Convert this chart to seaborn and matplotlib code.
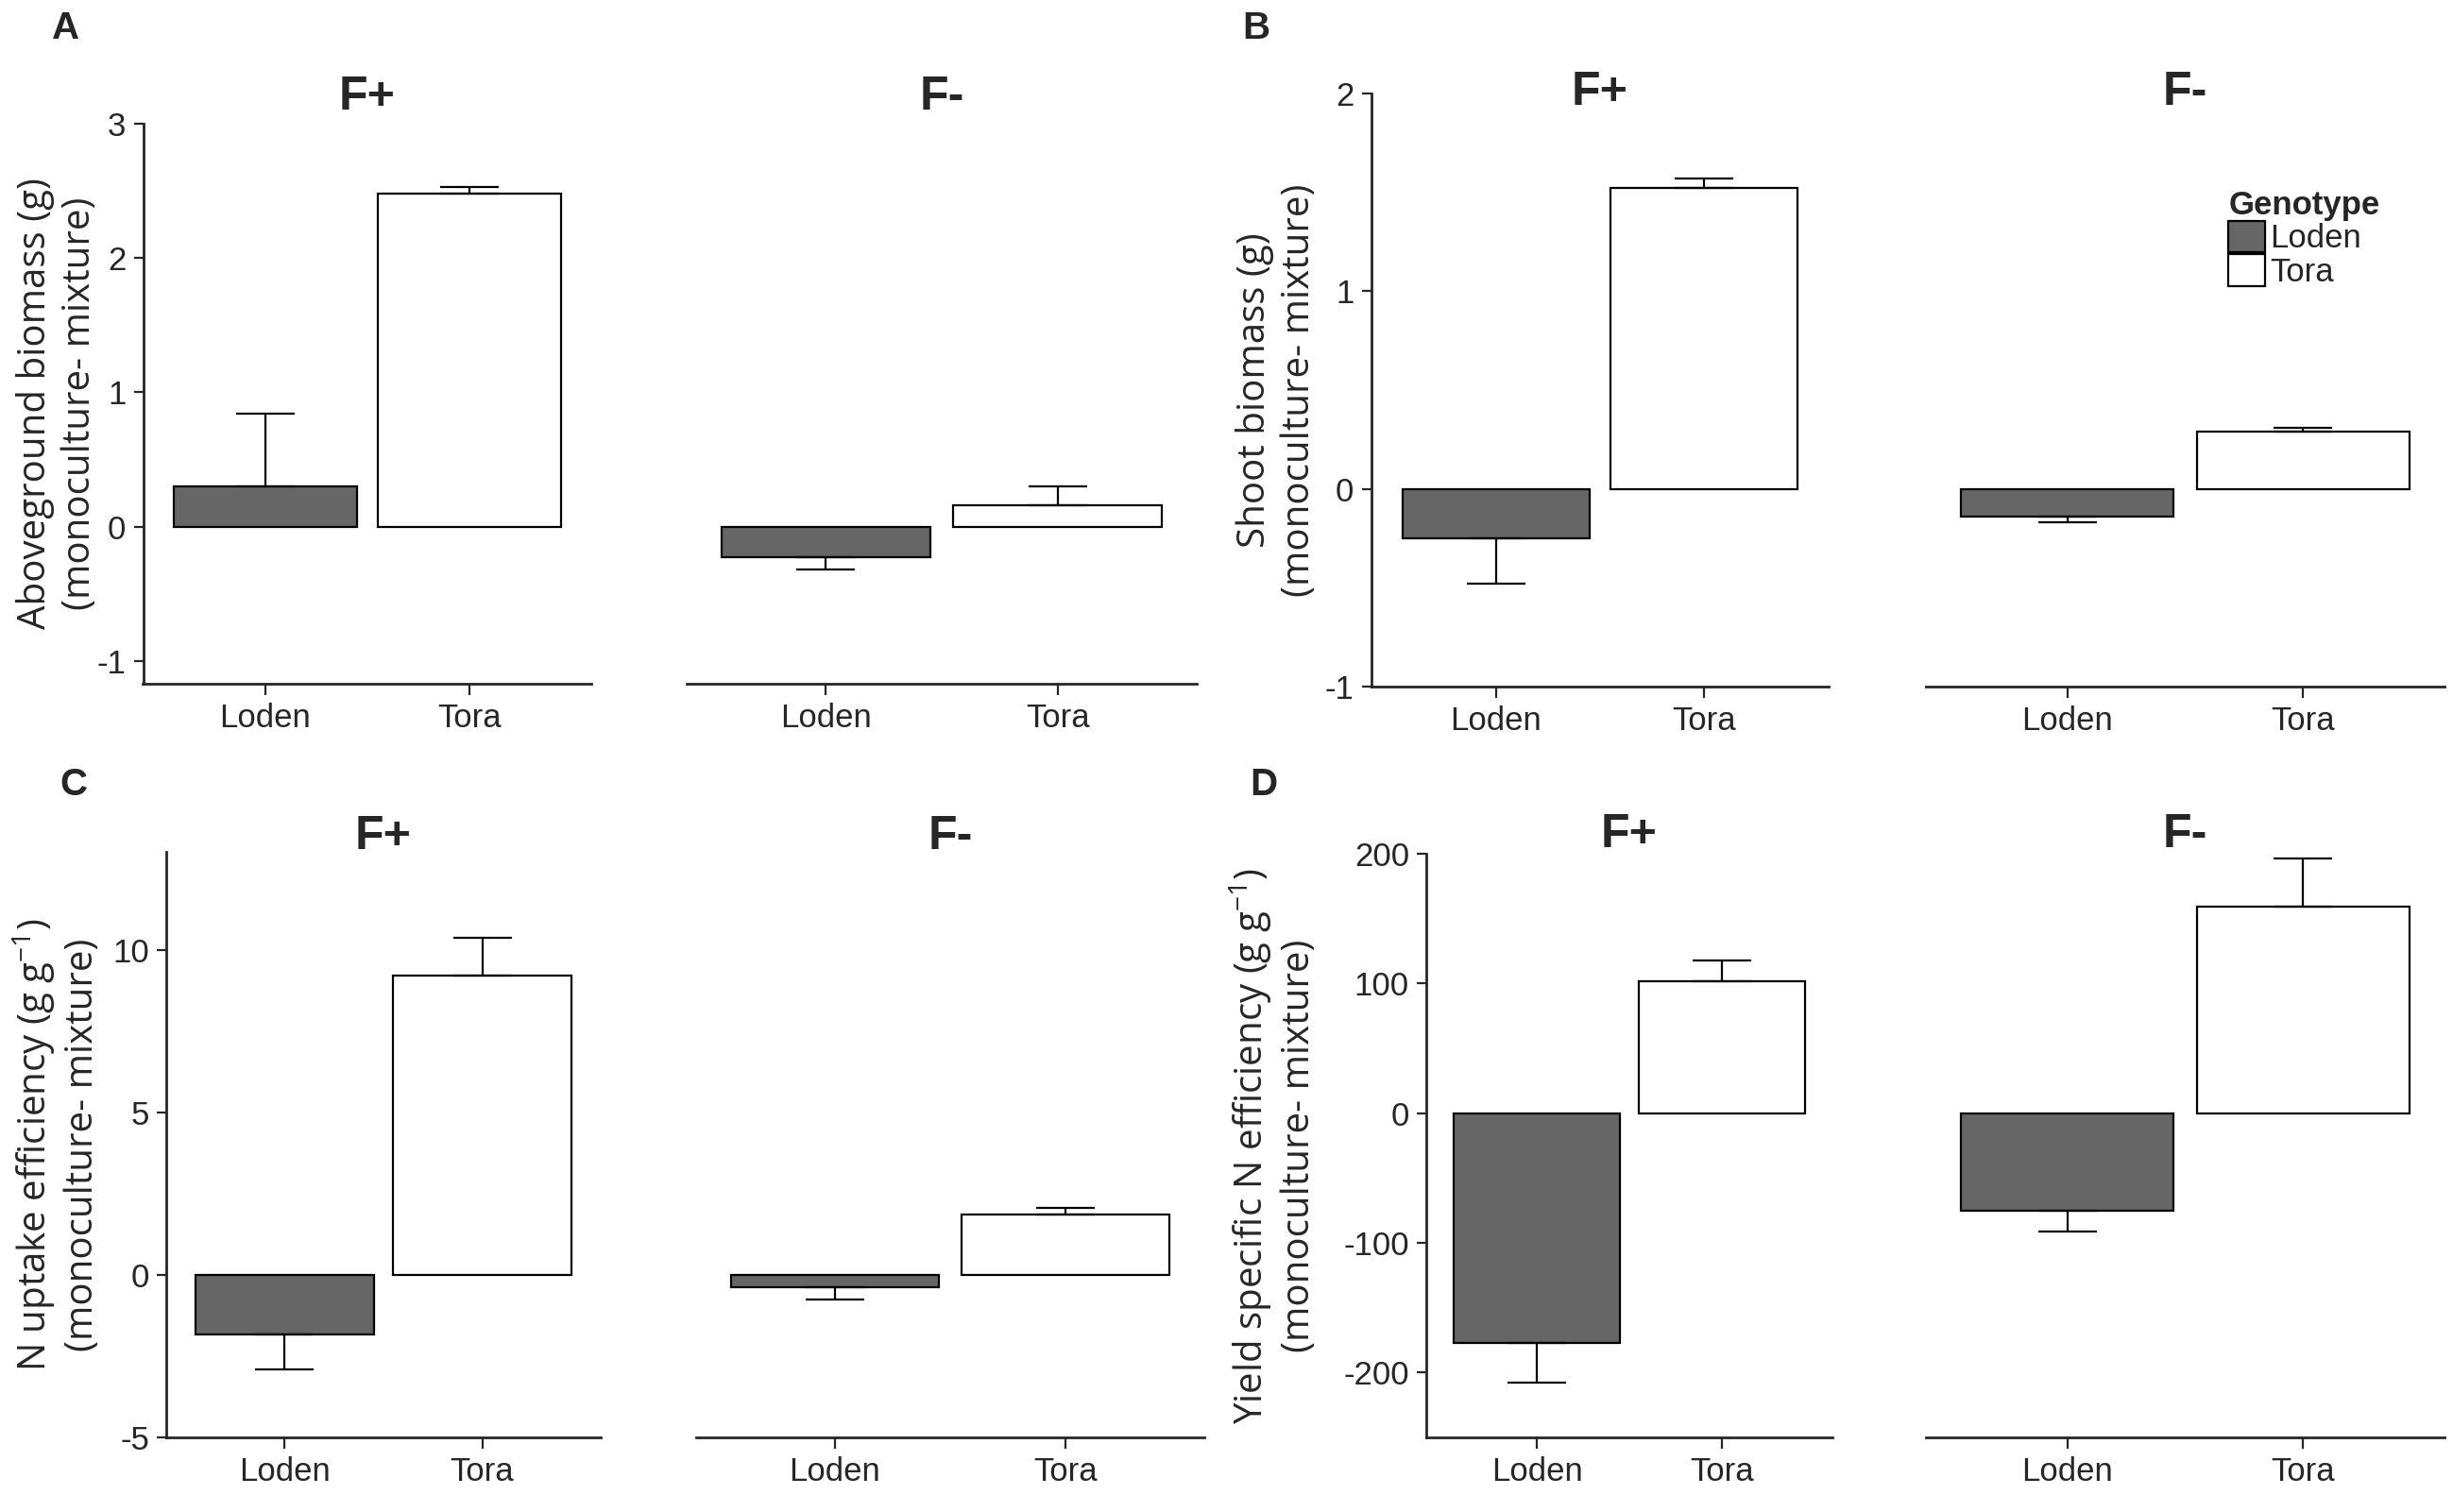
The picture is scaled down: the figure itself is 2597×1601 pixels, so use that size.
import numpy as np
import pandas as pd
import matplotlib.pyplot as plt
import matplotlib.transforms as mtransforms
from matplotlib.patches import Patch
import seaborn as sns

genotypes = ['Loden', 'Tora']
colors = {'Loden': '#666666', 'Tora': '#ffffff'}

# A: aboveground biomass (g)
biomass_fplus = [0.30, 2.48]
biomass_fplus_se = [0.54, 0.05]
biomass_fminus = [-0.23, 0.16]
biomass_fminus_se = [0.09, 0.14]

# B: shoot biomass (g)
shoot_fplus = [-0.25, 1.52]
shoot_fplus_se = [0.23, 0.05]
shoot_fminus = [-0.14, 0.29]
shoot_fminus_se = [0.03, 0.02]

# C: N uptake efficiency
nupt_fplus = [-1.82, 9.20]
nupt_fplus_se = [1.09, 1.16]
nupt_fminus = [-0.37, 1.85]
nupt_fminus_se = [0.38, 0.22]

# D: yield specific N efficiency
ysne_fplus = [-177, 102]
ysne_fplus_se = [31, 16]
ysne_fminus = [-75, 159]
ysne_fminus_se = [16, 37]

W, H = 2597, 1601

sns.set_style('ticks')
plt.rcParams['font.family'] = ['Liberation Sans', 'DejaVu Sans']
plt.rcParams['axes.linewidth'] = 2
plt.rcParams['axes.unicode_minus'] = False

fig = plt.figure(figsize=(W / 100, H / 100), dpi=100)


def px_rect(l, t, r, b):
    return [l / W, 1 - b / H, (r - l) / W, (b - t) / H]


panels = [
    dict(letter='A', letter_xy=(70, 30), title_y=103, label_x=105,
         ylabel='Aboveground biomass (g)\n(monoculture- mixture)',
         ylim=(-1.17, 3), yticks=[-1, 0, 1, 2, 3],
         rects=[(151.5, 131, 626, 724), (727, 131, 1267, 724)],
         vals=[(biomass_fplus, biomass_fplus_se), (biomass_fminus, biomass_fminus_se)]),
    dict(letter='B', letter_xy=(1330, 30), title_y=98, label_x=1396,
         ylabel='Shoot biomass (g)\n(monoculture- mixture)',
         ylim=(-1, 2), yticks=[-1, 0, 1, 2],
         rects=[(1451.5, 99, 1936, 727), (2039, 99, 2588, 727)],
         vals=[(shoot_fplus, shoot_fplus_se), (shoot_fminus, shoot_fminus_se)]),
    dict(letter='C', letter_xy=(78, 831), title_y=886, label_x=108,
         ylabel='N uptake efficiency (g g$^{\\mathregular{-1}}$)\n(monoculture- mixture)',
         ylim=(-5, 13), yticks=[-5, 0, 5, 10],
         rects=[(176, 902.5, 636, 1522), (737, 902.5, 1275, 1522)],
         vals=[(nupt_fplus, nupt_fplus_se), (nupt_fminus, nupt_fminus_se)]),
    dict(letter='D', letter_xy=(1338, 831), title_y=884, label_x=1396,
         ylabel='Yield specific N efficiency (g g$^{\\mathregular{-1}}$)\n(monoculture- mixture)',
         ylim=(-250, 200), yticks=[-200, -100, 0, 100, 200],
         rects=[(1510, 904, 1940, 1522), (2039, 904, 2588, 1522)],
         vals=[(ysne_fplus, ysne_fplus_se), (ysne_fminus, ysne_fminus_se)]),
]

for p in panels:
    fig.text(p['letter_xy'][0] / W, 1 - p['letter_xy'][1] / H, p['letter'],
             fontsize=29, fontweight='bold', ha='center', va='center')
    axes = []
    for i, (rect, (vals, se), title) in enumerate(zip(p['rects'], p['vals'], ['F+', 'F-'])):
        ax = fig.add_axes(px_rect(*rect))
        df = pd.DataFrame({'Genotype': genotypes, 'value': vals})
        sns.barplot(data=df, x='Genotype', y='value', hue='Genotype', palette=colors,
                    width=0.9, saturation=1, edgecolor='black', linewidth=1.6,
                    legend=False, ax=ax)
        v = np.array(vals, dtype=float)
        s = np.array(se, dtype=float)
        lo = np.where(v < 0, s, 0)
        hi = np.where(v >= 0, s, 0)
        ax.errorbar(np.arange(len(genotypes)), v, yerr=[lo, hi], fmt='none',
                    ecolor='black', elinewidth=1.6, capsize=22, capthick=1.6)
        ax.set_xlim(-0.6, 1.6)
        ax.set_ylim(*p['ylim'])
        ax.set_xlabel('')
        ax.set_ylabel('')
        ax.tick_params(axis='x', length=8.5, width=1.6, pad=6, labelsize=25)
        ax.tick_params(axis='y', length=7, width=1.6, pad=6, labelsize=25)
        sns.despine(ax=ax)
        if i == 0:
            ax.set_yticks(p['yticks'])
            ax.set_ylabel(p['ylabel'], fontsize=29, family=['Open Sans', 'DejaVu Sans'],
                          multialignment='center')
            tr = mtransforms.blended_transform_factory(fig.transFigure, ax.transAxes)
            ax.yaxis.set_label_coords(p['label_x'] / W, 0.5, transform=tr)
        else:
            ax.spines['left'].set_visible(False)
            ax.set_yticks([])
        pos = ax.get_position()
        fig.text((pos.x0 + pos.x1) / 2, 1 - p['title_y'] / H, title,
                 fontsize=36, fontweight='bold', ha='center', va='center')
        axes.append(ax)
    if p['letter'] == 'B':
        handles = [Patch(facecolor=colors[g], edgecolor='black', linewidth=1.6) for g in genotypes]
        leg = axes[1].legend(handles, genotypes, title='Genotype', loc='upper left',
                             bbox_to_anchor=(0.552, 0.866), frameon=False, fontsize=25,
                             title_fontproperties={'weight': 'bold', 'size': 25},
                             handlelength=1.12, handleheight=1.12, labelspacing=0,
                             handletextpad=0.15, borderpad=0, alignment='left')

fig.savefig('out.png', dpi=100)
